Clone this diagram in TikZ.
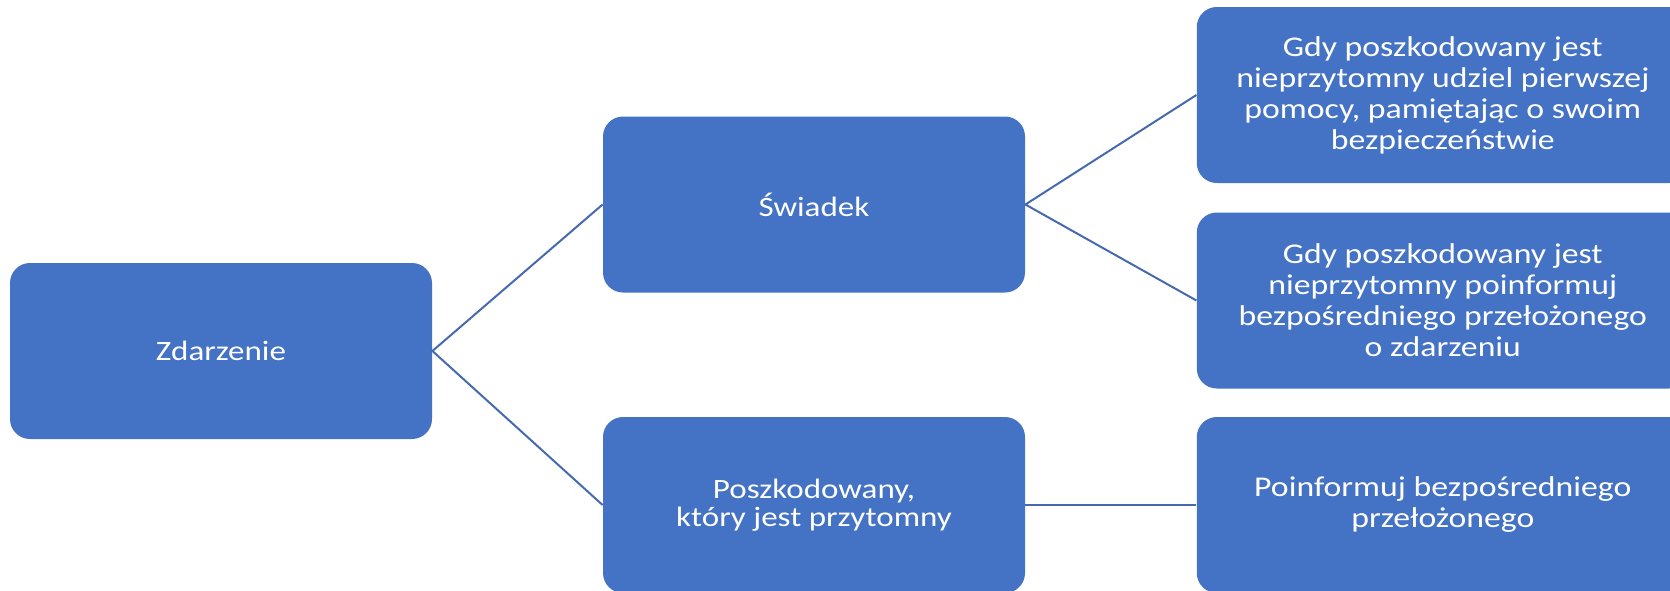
\documentclass[tikz,border=0pt]{standalone}
\usepackage{fontspec}
\setmainfont[FakeStretch=1.18]{Carlito}
\usetikzlibrary{positioning}
\definecolor{boxblue}{HTML}{4472C4}
\definecolor{lineblue}{HTML}{466AB0}
\tikzset{mbox/.style={rectangle,rounded corners=10pt,fill=boxblue,text=white,minimum width=211pt,minimum height=88pt,align=center,inner sep=0pt,font=\fontsize{14}{14}\selectfont},
	 wbox/.style={mbox,minimum width=246pt,font=\fontsize{14.3}{15.5}\selectfont},
	 link/.style={draw=lineblue,line width=1pt},
	 node distance = 85.5pt
	 }

\begin{document}
\begin{tikzpicture}[x=0.5pt,y=-0.5pt] % event tree
	\clip (0,0) rectangle (1670,590);
        \node[mbox] (zd) at (221,351) {Zdarzenie};
        \node[mbox] (sw) at (814,204.5) {Świadek};
        \node[mbox] (po) at (814,505) {Poszkodowany,\\który jest przytomny};
        \node[wbox] (r1) [right=of sw, yshift=54.75pt] {Gdy poszkodowany jest\\nieprzytomny udziel pierwszej\\pomocy, pamiętając o swoim\\bezpieczeństwie};
        \node[wbox] (r2) [right=of sw, yshift=-48pt] {Gdy poszkodowany jest\\nieprzytomny poinformuj\\bezpośredniego przełożonego\\o zdarzeniu};
        \node[wbox] (r3) [right=of po] {Poinformuj bezpośredniego\\przełożonego};
	\draw[link] (sw.west) to (zd.east) to (po.west);
	\draw[link] (r1.west) to (sw.east) to (r2.west);
	\draw[link] (po) to (r3);
\end{tikzpicture}
\end{document}
